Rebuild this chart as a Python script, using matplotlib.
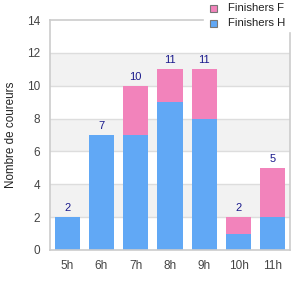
import matplotlib
matplotlib.use("Agg")
import matplotlib.pyplot as plt
from matplotlib.lines import Line2D
from matplotlib.patches import Rectangle

categories = ["5h", "6h", "7h", "8h", "9h", "10h", "11h"]
finishers_h = [2, 7, 7, 9, 8, 1, 2]
finishers_f = [0, 0, 3, 2, 3, 1, 3]
totals = [h + f for h, f in zip(finishers_h, finishers_f)]
yticks = [0, 2, 4, 6, 8, 10, 12, 14]

BLUE = "#61a8f5"
PINK = "#f283bb"
GRID = "#dddddd"
TXT = "#444444"
LAB = "#1a1a8c"

plt.rcParams['font.family'] = ['Liberation Sans', 'DejaVu Sans']

W, H = 300, 300
fig = plt.figure(figsize=(3, 3), dpi=100)
L, R, T, B = 50, 290, 20, 250
ax = fig.add_axes([L / W, 1 - B / H, (R - L) / W, (B - T) / H])
ax.set_xlim(-0.5, len(categories) - 0.5)
ax.set_ylim(0, 14)

# alternating bands
for lo in [2, 6, 10]:
    ax.axhspan(lo, lo + 2, color="#f2f2f2", zorder=0, lw=0)
for y in yticks[1:-1]:
    ax.axhline(y, color=GRID, lw=1, zorder=1)

x = list(range(len(categories)))
ax.bar(x, finishers_h, width=0.73, color=BLUE, zorder=2)
ax.bar(x, finishers_f, bottom=finishers_h, width=0.73, color=PINK, zorder=2)
for xi, t in zip(x, totals):
    ax.text(xi, t + 0.25, str(t), ha="center", va="bottom", fontsize=8, color=LAB)

for s in ax.spines.values():
    s.set_visible(False)
ax.set_xticks(x)
ax.set_xticklabels(categories)
ax.set_yticks(yticks)
ax.tick_params(length=0, labelsize=8.5, colors=TXT)
ax.tick_params(axis="x", pad=7)
ax.tick_params(axis="y", pad=7)
for lbl in ax.get_xticklabels() + ax.get_yticklabels():
    lbl.set_color(TXT)

# frame lines (figure pixel coords)
def fl(x0, y0, x1, y1):
    fig.add_artist(Line2D([x0 / W, x1 / W], [1 - y0 / H, 1 - y1 / H], color="#cccccc", lw=1.2))
fl(L, T, L, B)
fl(L, B, R, B)
fl(L, T, 203, T)
fl(R, 33, R, B)

fig.text(5 / W, 1 - 135 / H, "Nombre de coureurs", rotation=90, ha="left", va="center",
         fontsize=8.4, color="#222222")

# legend
for yy, col, name in [(8, PINK, "Finishers F"), (23, BLUE, "Finishers H")]:
    fig.add_artist(Rectangle((210 / W, 1 - (yy + 3.5) / H), 7 / W, 7 / H, facecolor=col,
                             edgecolor="#777777", lw=0.8, transform=fig.transFigure))
    fig.text(228 / W, 1 - yy / H, name, ha="left", va="center", fontsize=8.2, color="#222222")

fig.savefig("out.png", dpi=100)
